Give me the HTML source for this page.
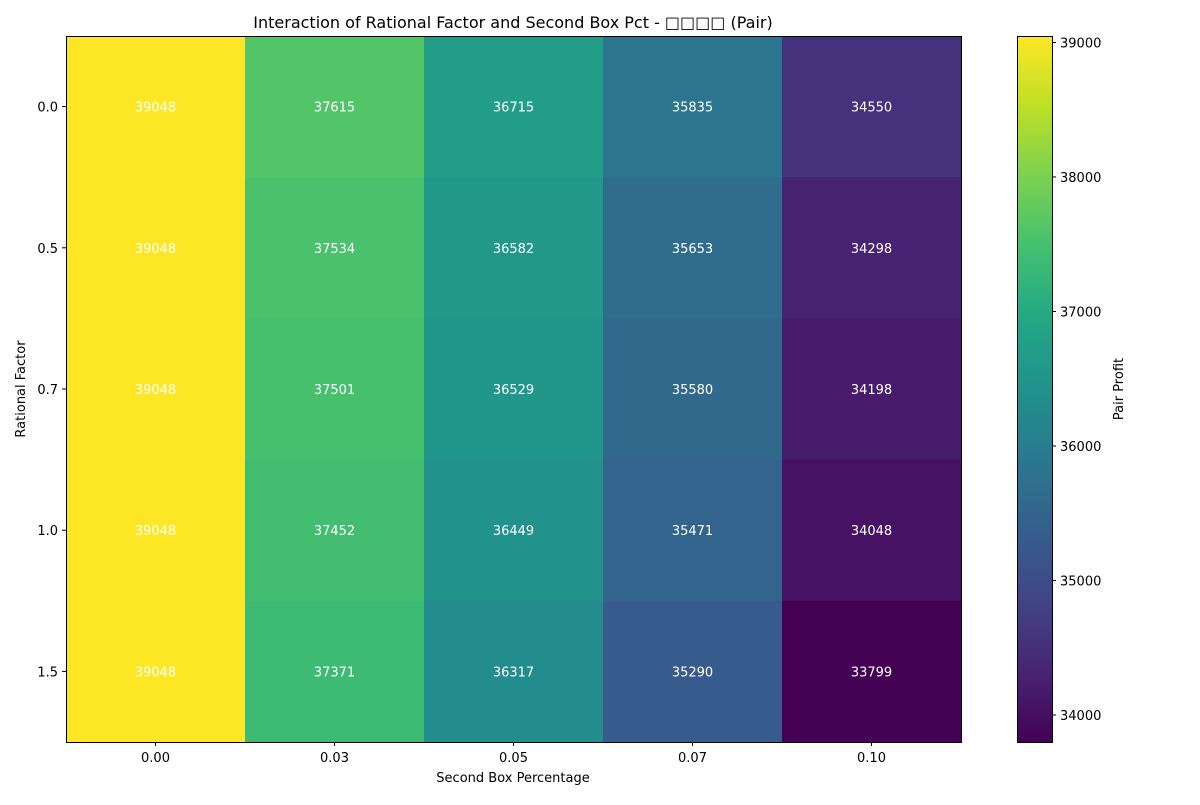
<!DOCTYPE html>
<html><head><meta charset="utf-8"><style>
body{margin:0;background:#fff;}
svg{font-family:"DejaVu Sans","Liberation Sans",sans-serif;}
</style></head><body>
<svg id="chart" width="1200" height="800" xmlns="http://www.w3.org/2000/svg">
<text x="513" y="28" font-size="16" text-anchor="middle">Interaction of Rational Factor and Second Box Pct - □□□□ (Pair)</text>
<g id="cells"></g>
<rect x="66.5" y="36.5" width="895" height="706" fill="none" stroke="#000"/>
<g id="xticks"></g><g id="yticks"></g>
<text x="513" y="782" font-size="13" text-anchor="middle">Second Box Percentage</text>
<text transform="translate(25,389) rotate(-90)" font-size="13" text-anchor="middle">Rational Factor</text>
<defs><linearGradient id="vir" x1="0" y1="1" x2="0" y2="0">
<stop offset="0" stop-color="#440154"/><stop offset="0.1" stop-color="#482475"/><stop offset="0.2" stop-color="#414487"/><stop offset="0.3" stop-color="#355f8d"/><stop offset="0.4" stop-color="#2a788e"/><stop offset="0.5" stop-color="#21918c"/><stop offset="0.6" stop-color="#22a884"/><stop offset="0.7" stop-color="#44bf70"/><stop offset="0.8" stop-color="#7ad151"/><stop offset="0.9" stop-color="#bddf26"/><stop offset="1" stop-color="#fde725"/>
</linearGradient></defs>
<rect x="1017.5" y="36.5" width="35" height="706" fill="url(#vir)" stroke="#000"/>
<g id="cbticks"></g>
<text transform="translate(1123,389) rotate(-90)" font-size="13" text-anchor="middle">Pair Profit</text>
</svg>
<script>
const xLabels=["0.00","0.03","0.05","0.07","0.10"];
const yLabels=["0.0","0.5","0.7","1.0","1.5"];
const row0=[39048,37615,36715,35835,34550];
const row1=[39048,37534,36582,35653,34298];
const row2=[39048,37501,36529,35580,34198];
const row3=[39048,37452,36449,35471,34048];
const row4=[39048,37371,36317,35290,33799];
const cbTicks=[34000,35000,36000,37000,38000,39000];
const rows=[row0,row1,row2,row3,row4];
const NS="http://www.w3.org/2000/svg";
const all=rows.flat();const vmin=Math.min(...all),vmax=Math.max(...all);
const X0=66,X1=961,Y0=36,Y1=742;
const cw=(X1-X0)/xLabels.length,ch=(Y1-Y0)/yLabels.length;
const stops=["#440154","#482475","#414487","#355f8d","#2a788e","#21918c","#22a884","#44bf70","#7ad151","#bddf26","#fde725"];
function hex(h){return [1,3,5].map(i=>parseInt(h.substr(i,2),16));}
function vir(t){t=Math.max(0,Math.min(1,t));const p=t*10,i=Math.min(9,Math.floor(p)),f=p-i;const a=hex(stops[i]),b=hex(stops[i+1]);return`rgb(${a.map((v,k)=>Math.round(v+(b[k]-v)*f)).join(",")})`;}
function mk(tag,attrs,parent,text){const e=document.createElementNS(NS,tag);for(const k in attrs)e.setAttribute(k,attrs[k]);if(text!==undefined)e.textContent=text;document.getElementById(parent).appendChild(e);return e;}
rows.forEach((r,i)=>r.forEach((v,j)=>{
 const c=mk("rect",{x:X0+j*cw,y:Y0+i*ch,width:cw+0.5,height:ch+0.5,fill:vir((v-vmin)/(vmax-vmin))},"cells");
 
 
 const t=mk("text",{x:X0+(j+0.5)*cw,y:Y0+(i+0.5)*ch+5,fill:"#fff","font-size":13,"text-anchor":"middle"},"cells",String(v));
 
 
}));
xLabels.forEach((l,j)=>{const x=X0+(j+0.5)*cw;
 mk("line",{x1:x,x2:x,y1:Y1,y2:Y1+4,stroke:"#000"},"xticks");
 const t=mk("text",{x:x,y:Y1+20,"font-size":13,"text-anchor":"middle"},"xticks",l);
 
 });
yLabels.forEach((l,i)=>{const y=Y0+(i+0.5)*ch;
 mk("line",{x1:X0-4,x2:X0,y1:y,y2:y,stroke:"#000"},"yticks");
 const t=mk("text",{x:X0-8,y:y+5,"font-size":13,"text-anchor":"end"},"yticks",l);
 
 });
cbTicks.forEach(v=>{const y=Y1-(v-vmin)/(vmax-vmin)*(Y1-Y0);
 mk("line",{x1:1052,x2:1056,y1:y,y2:y,stroke:"#000"},"cbticks");
 const t=mk("text",{x:1060,y:y+5,"font-size":13},"cbticks",String(v));
 
 });
</script>
</body></html>
